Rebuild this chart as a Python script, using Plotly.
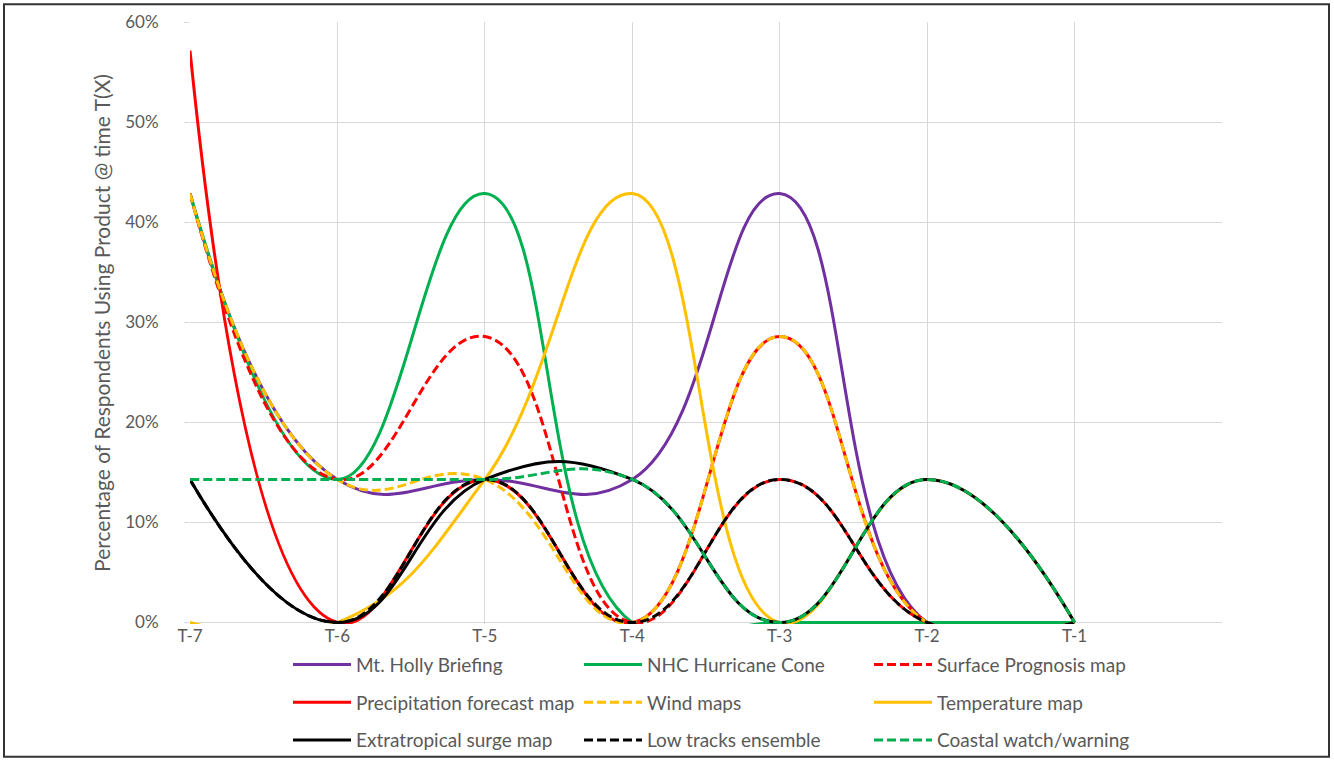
import plotly.graph_objects as go

# ---- data (percent of respondents) ----
categories = ["T-7", "T-6", "T-5", "T-4", "T-3", "T-2", "T-1"]
mt_holly = [42.86, 14.29, 14.29, 14.29, 42.86, 0, 0]
nhc_cone = [42.86, 14.29, 42.86, 0, 0, 0, 0]
surface_prog = [42.86, 14.29, 28.57, 0, 14.29, 0, 0]
precip = [57.14, 0, 14.29, 0, 28.57, 0, 0]
wind = [42.86, 14.29, 14.29, 0, 28.57, 0, 0]
temperature = [0, 0, 14.29, 42.86, 0, 14.29, 0]
extratropical = [14.29, 0, 14.29, 14.29, 0, 14.29, 0]
low_tracks = [14.29, 0, 14.29, 0, 14.29, 0, 0]
coastal = [14.29, 14.29, 14.29, 14.29, 0, 14.29, 0]

series_names = ["Mt. Holly Briefing", "NHC Hurricane Cone", "Surface Prognosis map",
                "Precipitation forecast map", "Wind maps", "Temperature map",
                "Extratropical surge map", "Low tracks ensemble", "Coastal watch/warning"]
series_values = [mt_holly, nhc_cone, surface_prog, precip, wind, temperature,
                 extratropical, low_tracks, coastal]

# ---- styles ----
colors = ["#7030A0", "#00B050", "#FF0000", "#FF0000", "#FFC000", "#FFC000",
          "#000000", "#000000", "#00B050"]
dashes = ["solid", "solid", "9px,4px", "solid", "9px,4px", "solid",
          "solid", "9px,4px", "9px,4px"]
legend_ids = ["legend", "legend2", "legend3"]

W, H = 1334, 772
ML, MR, MT, MB = 190, 112, 22, 138
PW = W - ML - MR
PH = H - MT - MB
Y0 = -0.0015

fig = go.Figure()
xs = list(range(len(categories)))
for i, (name, vals) in enumerate(zip(series_names, series_values)):
    fig.add_trace(go.Scatter(
        x=xs, y=[v / 100 for v in vals], name=name, mode="lines",
        line=dict(color=colors[i], width=3, dash=dashes[i], shape="spline", smoothing=1.3),
        legend=legend_ids[i % 3], legendgroup=name, hoverinfo="skip",
    ))

def px_to_paper_x(px):
    return (px - ML) / PW

def px_to_paper_y(py):
    return (H - MB - py) / PH

legend_common = dict(
    orientation="v", yanchor="top", xanchor="left",
    font=dict(family="Lato", size=19, color="#595959"),
    itemwidth=58, tracegroupgap=10, bgcolor="rgba(0,0,0,0)",
    itemclick=False, itemdoubleclick=False,
)
col_x = [288, 579, 869]
legend_top = 656
fig.update_layout(
    width=W, height=H,
    margin=dict(l=ML, r=MR, t=MT, b=MB),
    plot_bgcolor="white", paper_bgcolor="white",
    font=dict(family="Lato", color="#595959"),
    legend=dict(x=px_to_paper_x(col_x[0]), y=px_to_paper_y(legend_top), **legend_common),
    legend2=dict(x=px_to_paper_x(col_x[1]), y=px_to_paper_y(legend_top), **legend_common),
    legend3=dict(x=px_to_paper_x(col_x[2]), y=px_to_paper_y(legend_top), **legend_common),
    shapes=[dict(type="rect", xref="paper", yref="paper",
                 x0=px_to_paper_x(4), x1=px_to_paper_x(1329),
                 y0=px_to_paper_y(769), y1=px_to_paper_y(4),
                 line=dict(color="#333333", width=2), fillcolor="rgba(0,0,0,0)", layer="below")],
)
fig.update_xaxes(
    range=[0, 7], tickvals=list(range(8)), ticktext=categories + [""],
    showgrid=True, gridcolor="#D9D9D9", gridwidth=1, zeroline=False, showline=False,
    tickfont=dict(family="Lato", size=17, color="#595959"), ticks="",
)
fig.update_yaxes(
    range=[Y0, 0.6], tickvals=[0, 0.1, 0.2, 0.3, 0.4, 0.5, 0.6], tickformat=".0%",
    showgrid=True, gridcolor="#D9D9D9", gridwidth=1, zeroline=False, showline=False,
    ticks="outside", ticklen=5, tickcolor="#D9D9D9", ticklabelstandoff=22,
    tickfont=dict(family="Lato", size=17, color="#595959"),
    title=dict(text="Percentage of Respondents Using Product @ time T(X)",
               font=dict(family="Lato", size=21, color="#595959"), standoff=8),
)

fig.write_html("out.html", config={"displayModeBar": False},
               post_script="document.body.style.margin='0px';")
